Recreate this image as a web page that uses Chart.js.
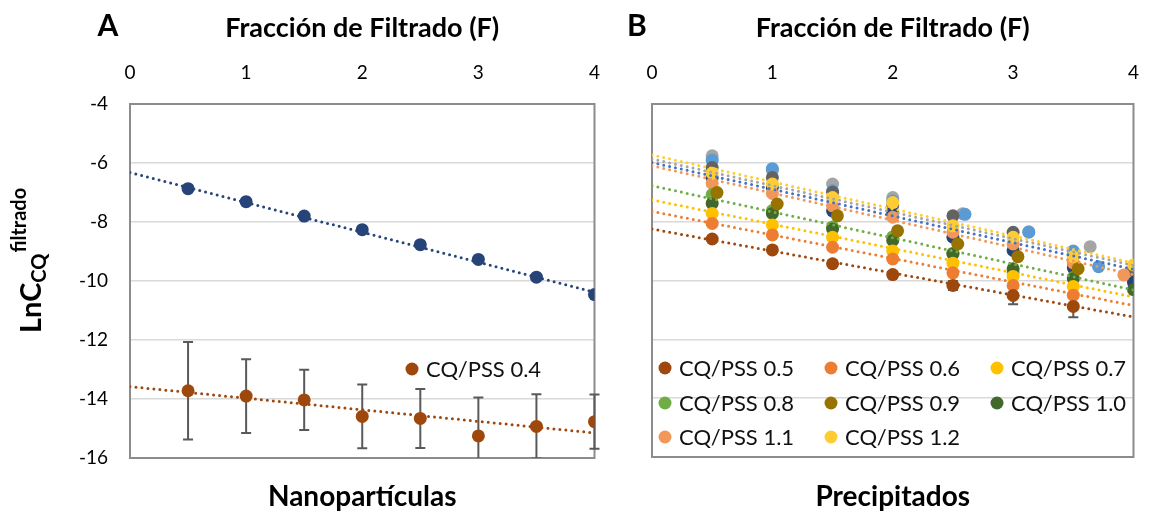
<!DOCTYPE html>
<html>
<head>
<meta charset="utf-8">
<script src="https://cdn.jsdelivr.net/npm/chart.js@4/dist/chart.umd.min.js"></script>
<style>
  html, body { margin: 0; padding: 0; background: #ffffff; }
  #root { position: relative; width: 1159px; height: 516px; background: #fff; }
  #wa { position: absolute; left: 0; top: 0; width: 620px; height: 516px; }
  #wb { position: absolute; left: 620px; top: 0; width: 539px; height: 516px; }
</style>
</head>
<body>
<div id="root">
  <div id="wa"><canvas id="ca"></canvas></div>
  <div id="wb"><canvas id="cb"></canvas></div>
</div>
<script>
// ---------------- DATA ----------------
const xTicks = [0, 1, 2, 3, 4];
const yTicks = [-4, -6, -8, -10, -12, -14, -16];

// Panel A (Nanopartículas)
const xA = [0.5, 1, 1.5, 2, 2.5, 3, 3.5, 4];
const blueA = [-6.87, -7.31, -7.80, -8.26, -8.77, -9.27, -9.87, -10.46];
const cq04 = [-13.72, -13.90, -14.03, -14.59, -14.66, -15.25, -14.93, -14.77];
const errCq04 = [1.65, 1.25, 1.02, 1.08, 1.00, 1.30, 1.09, 0.92];
const trendX = [0, 4];
const trendBlueA = [-6.32, -10.38];
const trendCq04 = [-13.58, -15.15];

// Panel B (Precipitados)
const xB7 = [0.5, 1, 1.5, 2, 2.5, 3, 3.5];
const xB8 = [0.5, 1, 1.5, 2, 2.5, 3, 3.5, 4];
const cq05 = [-8.59, -8.96, -9.43, -9.80, -10.17, -10.51, -10.88];
const errCq05 = [0.08, 0.08, 0.08, 0.1, 0.15, 0.30, 0.37];
const cq06 = [-8.06, -8.45, -8.87, -9.27, -9.74, -10.17, -10.50];
const cq07 = [-7.72, -8.11, -8.53, -9.00, -9.41, -9.86, -10.20];
const cq08 = [-7.08, -7.62, -8.18, -8.52, -9.07, -9.72, -9.90];
const cq09 = [-7.01, -7.40, -7.80, -8.31, -8.76, -9.19, -9.60];
const cq10 = [-7.38, -7.72, -8.25, -8.64, -9.10, -9.60, -9.94, -10.31];
const xCq11 = [0.5, 1, 1.5, 2, 2.5, 3, 3.5, 3.92];
const cq11 = [-6.70, -7.04, -7.46, -7.85, -8.36, -8.76, -9.40, -9.81];
const cq12 = [-6.35, -6.72, -7.18, -7.35, -8.14, -8.53, -9.19, -9.47];
const xGray = [0.5, 1, 1.5, 2, 2.58, 3.13, 3.64];
const grayB = [-5.76, -6.25, -6.72, -7.18, -7.73, -8.34, -8.85];
const xLightBlue = [0.5, 1, 1.5, 2, 2.6, 3.13, 3.5, 3.71];
const lightBlueB = [-5.91, -6.20, -6.95, -7.30, -7.75, -8.36, -9.00, -9.53];
const darkGrayB = [-6.16, -6.50, -7.00, -7.45, -7.80, -8.36, -9.40, -9.66];
const darkBlueB = [-6.50, -6.84, -7.63, -7.70, -8.53, -8.98, -9.57, -10.06];

const labelsB = ['CQ/PSS 0.5', 'CQ/PSS 0.6', 'CQ/PSS 0.7', 'CQ/PSS 0.8', 'CQ/PSS 0.9', 'CQ/PSS 1.0', 'CQ/PSS 1.1', 'CQ/PSS 1.2'];
const trendStartB = [-8.25, -7.65, -7.26, -6.78, -6.10, -5.73, -5.87, -5.99];
const trendEndB = [-11.24, -10.85, -10.56, -10.32, -9.80, -9.40, -9.48, -9.62];

// ---------------- STYLE ----------------
const FONT = 'Lato, "Liberation Sans", sans-serif';
const C = {
  brown: '#9E480E', orange: '#ED7D31', gold: '#FFC000', green: '#70AD47',
  olive: '#997300', dkgreen: '#43682B', ltorange: '#F1975A', yellow: '#FFCD33',
  gray: '#A5A5A5', ltblue: '#5B9BD5', dkgray: '#636363', dkblue: '#264478', blue: '#4472C4'
};
const trendColorsB = [C.brown, C.orange, C.gold, C.green, C.ltorange, C.yellow, C.gray, C.blue];
const legendColorsB = [C.brown, C.orange, C.gold, C.green, C.olive, C.dkgreen, C.ltorange, C.yellow];

function pts(xs, ys) { return ys.map((y, i) => ({ x: xs[i], y: y })); }

function pointSet(label, xs, ys, color, order, r) {
  return { type: 'scatter', label, data: pts(xs, ys), backgroundColor: color, borderColor: color,
    borderWidth: 0, pointRadius: r || 6.5, pointHoverRadius: r || 6.5, showLine: false, order };
}
function trendSet(label, ys, color, order) {
  return { type: 'line', label, data: pts(trendX, ys), borderColor: color, backgroundColor: color,
    borderWidth: 3, borderDash: [0, 6], borderCapStyle: 'round', pointRadius: 0, fill: false, order };
}

const framePlugin = {
  id: 'frame',
  beforeDatasetsDraw(chart) {
    const a = chart.chartArea, ctx = chart.ctx;
    ctx.save();
    ctx.strokeStyle = '#8c8c8c';
    ctx.lineWidth = 2;
    ctx.strokeRect(a.left, a.top, a.right - a.left, a.bottom - a.top);
    ctx.restore();
  }
};

function errorPlugin(specs) {
  return {
    id: 'errbars',
    beforeDatasetsDraw(chart) {
      const ctx = chart.ctx, a = chart.chartArea;
      const xs = chart.scales.x, ys = chart.scales.y;
      ctx.save();
      ctx.beginPath();
      ctx.rect(a.left - 1, a.top, a.right - a.left + 10, a.bottom - a.top);
      ctx.clip();
      ctx.strokeStyle = '#595959';
      ctx.lineWidth = 2;
      specs.forEach(s => {
        s.y.forEach((v, i) => {
          const px = xs.getPixelForValue(s.x[i]);
          const top = ys.getPixelForValue(v + s.e[i]);
          const bot = ys.getPixelForValue(v - s.e[i]);
          ctx.beginPath();
          ctx.moveTo(px, top); ctx.lineTo(px, bot);
          ctx.moveTo(px - 5, top); ctx.lineTo(px + 5, top);
          ctx.moveTo(px - 5, bot); ctx.lineTo(px + 5, bot);
          ctx.stroke();
        });
      });
      ctx.restore();
    }
  };
}

function textPlugin(opts) {
  return {
    id: 'texts',
    afterDraw(chart) {
      const ctx = chart.ctx, a = chart.chartArea;
      ctx.save();
      ctx.fillStyle = '#000';
      // panel letter
      ctx.font = 'bold 30px ' + FONT;
      ctx.textAlign = 'center';
      ctx.textBaseline = 'middle';
      ctx.fillText(opts.letter, opts.letterX, 26);
      // bottom title
      ctx.font = 'bold 28px ' + FONT;
      ctx.fillText(opts.bottom, (a.left + a.right) / 2, 497);
      // legend
      ctx.font = '22px ' + FONT;
      ctx.textAlign = 'left';
      opts.legend.forEach(l => {
        ctx.fillStyle = l.color;
        ctx.beginPath();
        ctx.arc(l.x, l.y, 6.5, 0, Math.PI * 2);
        ctx.fill();
        ctx.fillStyle = '#111';
        ctx.fillText(l.text, l.x + 14, l.y + 1);
      });
      // y title
      if (opts.yTitle) {
        ctx.translate(41, 333);
        ctx.rotate(-Math.PI / 2);
        ctx.textAlign = 'left';
        ctx.textBaseline = 'alphabetic';
        ctx.fillStyle = '#000';
        ctx.font = 'bold 29px ' + FONT;
        ctx.fillText('LnC', 0, 0);
        const w1 = ctx.measureText('LnC').width;
        ctx.font = 'bold 20px ' + FONT;
        ctx.fillText('CQ', w1, 5);
        const w2 = ctx.measureText('CQ').width;
        ctx.font = 'bold 20px ' + FONT;
        ctx.fillText('filtrado', w1 + w2 + 1, -15);
      }
      ctx.restore();
    }
  };
}

function makeScales(showY) {
  return {
    x: {
      type: 'linear', position: 'top', min: 0, max: 4,
      afterBuildTicks: s => { s.ticks = xTicks.map(v => ({ value: v })); },
      ticks: { font: { family: FONT, size: 19 }, color: '#000', padding: 20, maxRotation: 0 },
      grid: { display: false, drawTicks: false },
      border: { display: false },
      title: { display: true, text: 'Fracción de Filtrado (F)', color: '#000',
        font: { family: FONT, size: 27, weight: 'bold' }, padding: { top: 12, bottom: 0 } },
      afterFit: s => { s.height = 104; }
    },
    y: {
      type: 'linear', min: -16, max: -4,
      afterBuildTicks: s => { s.ticks = yTicks.map(v => ({ value: v })); },
      ticks: { display: showY, font: { family: FONT, size: 19 }, color: '#000', padding: 22 },
      grid: { color: '#d9d9d9', lineWidth: 1.5, drawTicks: false },
      border: { display: false },
      afterFit: s => { s.width = showY ? 70 : 0; }
    }
  };
}

const common = {
  responsive: true, maintainAspectRatio: false, animation: false,
  plugins: { legend: { display: false }, tooltip: { enabled: false }, title: { display: false } },
  events: []
};

// ---------------- CHART A ----------------
new Chart(document.getElementById('ca'), {
  type: 'scatter',
  data: {
    datasets: [
      trendSet('trend blue', trendBlueA, C.dkblue, 0),
      trendSet('trend CQ/PSS 0.4', trendCq04, C.brown, 0),
      pointSet('Serie A', xA, blueA, C.dkblue, 1, 6.5),
      pointSet('CQ/PSS 0.4', xA, cq04, C.brown, 1, 6.5)
    ]
  },
  options: Object.assign({}, common, {
    layout: { padding: { left: 60, right: 21, top: 0, bottom: 58 } },
    scales: makeScales(true)
  }),
  plugins: [framePlugin, errorPlugin([{ x: xA, y: cq04, e: errCq04 }]),
    textPlugin({ letter: 'A', letterX: 108, bottom: 'Nanopartículas', yTitle: true,
      legend: [{ x: 412, y: 369, color: C.brown, text: 'CQ/PSS 0.4' }] })]
});

// ---------------- CHART B ----------------
const dsB = [];
labelsB.forEach((l, i) => dsB.push(trendSet('trend ' + l, [trendStartB[i], trendEndB[i]], trendColorsB[i], 0)));
dsB.push(pointSet('gris', xGray, grayB, C.gray, 9));
dsB.push(pointSet('azul claro', xLightBlue, lightBlueB, C.ltblue, 8));
dsB.push(pointSet('gris oscuro', xB8, darkGrayB, C.dkgray, 7));
dsB.push(pointSet('azul oscuro', xB8, darkBlueB, C.dkblue, 6));
dsB.push(pointSet(labelsB[0], xB7, cq05, C.brown, 2));
dsB.push(pointSet(labelsB[1], xB7, cq06, C.orange, 2));
dsB.push(pointSet(labelsB[2], xB7, cq07, C.gold, 2));
dsB.push(pointSet(labelsB[3], xB7, cq08, C.green, 3));
dsB.push(pointSet(labelsB[4], xB7.map(v => v + 0.04), cq09, C.olive, 2));
dsB.push(pointSet(labelsB[5], xB8, cq10, C.dkgreen, 2));
dsB.push(pointSet(labelsB[6], xCq11, cq11, C.ltorange, 4));
dsB.push(pointSet(labelsB[7], xB8, cq12, C.yellow, 3));

const legB = labelsB.map((t, i) => ({
  x: [45, 211, 377][i % 3], y: [368, 403, 437][Math.floor(i / 3)], color: legendColorsB[i], text: t
}));

new Chart(document.getElementById('cb'), {
  type: 'scatter',
  data: { datasets: dsB },
  options: Object.assign({}, common, {
    layout: { padding: { left: 32, right: 17, top: 0, bottom: 59 } },
    scales: makeScales(false)
  }),
  plugins: [framePlugin, errorPlugin([{ x: xB7, y: cq05, e: errCq05 }]),
    textPlugin({ letter: 'B', letterX: 17, bottom: 'Precipitados', yTitle: false, legend: legB })]
});
</script>
</body>
</html>
